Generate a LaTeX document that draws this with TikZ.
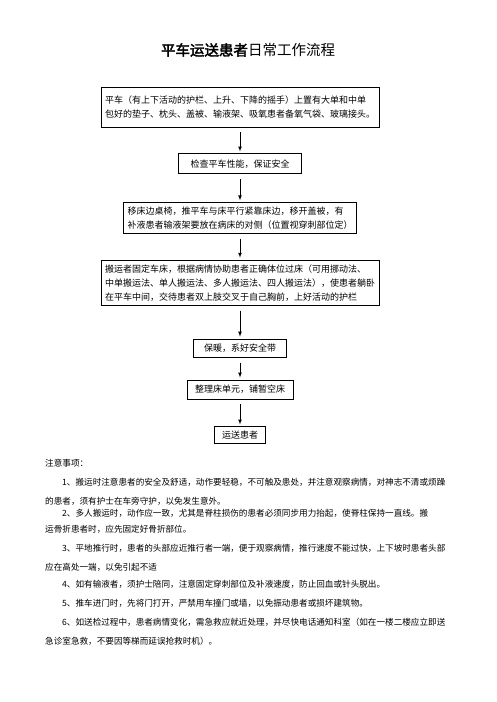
\documentclass[tikz,border=0pt]{standalone}
\usepackage{fontspec}
\setmainfont{Noto Sans CJK SC}[AutoFakeBold=2.5]
\usetikzlibrary{arrows, positioning}

\begin{document}
\begin{tikzpicture}[x=1pt, y=-1pt,
    node distance=26pt,
    every node/.style={font=\fontsize{9}{14}\selectfont},
    >=latex,
    box/.style={rectangle, draw=black, line width=0.9pt, align=left, inner sep=4pt},
    note/.style={anchor=west, inner sep=0pt, font=\fontsize{8.6}{12}\selectfont},
    line/.style={draw, ->, line width=0.7pt, shorten <=5pt, shorten >=2pt}]

\useasboundingbox (0,0) rectangle (496,702);

% Title
\node (title) at (248,50) {\fontsize{14.5}{16}\selectfont\textbf{平车运送患者}日常工作流程};

% Flow
\node[box, minimum width=271pt, minimum height=40pt] (cart) at (240,107) {平车（有上下活动的护栏、上升、下降的摇手）上置有大单和中单\\包好的垫子、枕头、盖被、输液架、吸氧患者备氧气袋、玻璃接头。};
\node[box, below=of cart, minimum width=123pt, minimum height=20pt, align=center] (check) {检查平车性能，保证安全};
\node[box, below=28pt of check, minimum width=226pt, minimum height=30pt] (move) {移床边桌椅，推平车与床平行紧靠床边，移开盖被，有\\补液患者输液架要放在病床的对侧（位置视穿刺部位定）};
\node[box, below=of move, minimum width=268pt, minimum height=45pt] (carry) {搬运者固定车床，根据病情协助患者正确体位过床（可用挪动法、\\中单搬运法、单人搬运法、多人搬运法、四人搬运法），使患者躺卧\\在平车中间，交待患者双上肢交叉于自己胸前，上好活动的护栏};
\node[box, below=33pt of carry, minimum width=93pt, minimum height=18pt, align=center] (warm) {保暖，系好安全带};
\node[box, below=22pt of warm, minimum width=106pt, minimum height=19pt, align=center] (bed) {整理床单元，铺暂空床};
\node[box, below=27pt of bed, minimum width=51pt, minimum height=16pt, align=center] (send) {运送患者};

% Notes
\node[note] (notes) at (45,463) {注意事项：};
\node[note] (n1a) at (62,482) {1、搬运时注意患者的安全及舒适，动作要轻稳，不可触及患处，并注意观察病情，对神志不清或烦躁};
\node[note] (n1b) at (45,501) {的患者，须有护士在车旁守护，以免发生意外。};
\node[note] (n2a) at (62,513) {2、多人搬运时，动作应一致，尤其是脊柱损伤的患者必须同步用力抬起，使脊柱保持一直线。搬};
\node[note] (n2b) at (45,529) {运骨折患者时，应先固定好骨折部位。};
\node[note] (n3a) at (62,548) {3、平地推行时，患者的头部应近推行者一端，便于观察病情，推行速度不能过快，上下坡时患者头部};
\node[note] (n3b) at (45,567) {应在高处一端，以免引起不适};
\node[note] (n4) at (62,584) {4、如有输液者，须护士陪同，注意固定穿刺部位及补液速度，防止回血或针头脱出。};
\node[note] (n5) at (62,603) {5、推车进门时，先将门打开，严禁用车撞门或墙，以免振动患者或损坏建筑物。};
\node[note] (n6a) at (62,622) {6、如送检过程中，患者病情变化，需急救应就近处理，并尽快电话通知科室（如在一楼二楼应立即送};
\node[note] (n6b) at (45,641) {急诊室急救，不要因等梯而延误抢救时机）。};

% Paths
\draw [line] (cart) -- (check);
\draw [line] (check) -- (move);
\draw [line] (move) -- (carry);
\draw [line] (carry) -- (warm);
\draw [line] (warm) -- (bed);
\draw [line] (bed) -- (send);

\end{tikzpicture}
\end{document}
